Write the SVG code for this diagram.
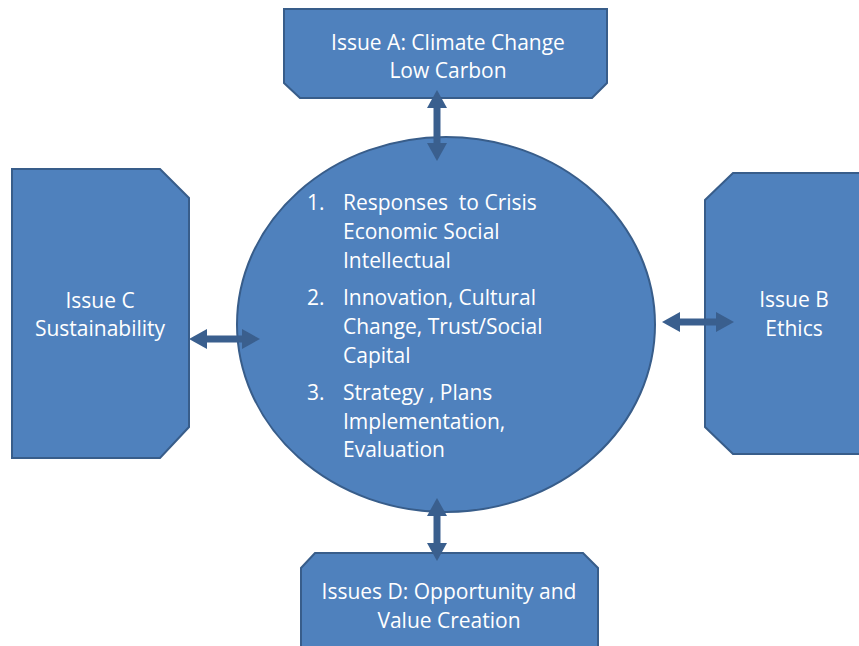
<svg xmlns="http://www.w3.org/2000/svg" width="859" height="646" viewBox="0 0 859 646">
  <style>
    .shape { fill: #4F81BD; stroke: #385D8A; stroke-width: 2; }
    .label { fill: #FFFFFF; font-family: "Open Sans", "Liberation Sans", sans-serif; font-size: 21px; }
    .mid { text-anchor: middle; }
    .link { stroke: #3A5F8E; stroke-width: 7; fill: none; marker-start: url(#head); marker-end: url(#head); }
  </style>
  <defs>
    <marker id="head" markerUnits="userSpaceOnUse" viewBox="0 0 18 20" markerWidth="18" markerHeight="20" refX="8" refY="10" orient="auto-start-reverse">
      <path d="M0,0 L18,10 L0,20 Z" fill="#3A5F8E"/>
    </marker>
  </defs>

  <!-- central hub -->
  <g id="hub">
    <ellipse class="shape" cx="446" cy="324.5" rx="209" ry="187.5"/>
    <text class="label" x="307" y="210">1.</text>
    <text class="label" x="343" y="210">Responses&#160; to Crisis</text>
    <text class="label" x="343" y="239">Economic Social</text>
    <text class="label" x="343" y="268">Intellectual</text>
    <text class="label" x="307" y="305">2.</text>
    <text class="label" x="343" y="305">Innovation, Cultural</text>
    <text class="label" x="343" y="334">Change, Trust/Social</text>
    <text class="label" x="343" y="363">Capital</text>
    <text class="label" x="307" y="400">3.</text>
    <text class="label" x="343" y="400">Strategy , Plans</text>
    <text class="label" x="343" y="429">Implementation,</text>
    <text class="label" x="343" y="457">Evaluation</text>
  </g>

  <!-- issue A (top) -->
  <g id="issue-a">
    <polygon class="shape" points="284,9 607,9 607,83 592,98 300,98 284,83"/>
    <text class="label mid" x="448" y="50">Issue A: Climate Change</text>
    <text class="label mid" x="448" y="78">Low Carbon</text>
  </g>

  <!-- issue B (right) -->
  <g id="issue-b">
    <polygon class="shape" points="733,173 872,173 872,454 733,454 705,427 705,200"/>
    <text class="label mid" x="794" y="307">Issue B</text>
    <text class="label mid" x="794" y="336">Ethics</text>
  </g>

  <!-- issue C (left) -->
  <g id="issue-c">
    <polygon class="shape" points="12,169 160,169 189,198 189,427 160,458 12,458"/>
    <text class="label mid" x="100" y="308">Issue C</text>
    <text class="label mid" x="100" y="336">Sustainability</text>
  </g>

  <!-- issue D (bottom) -->
  <g id="issue-d">
    <polygon class="shape" points="315,553 583,553 598,568 598,662 301,662 301,568"/>
    <text class="label mid" x="449" y="599">Issues D: Opportunity and</text>
    <text class="label mid" x="449" y="628">Value Creation</text>
  </g>

  <!-- two-way links between hub and issues -->
  <g id="connectors">
    <line class="link" x1="437" y1="100" x2="437" y2="151"/>
    <line class="link" x1="199" y1="339" x2="250" y2="339"/>
    <line class="link" x1="672" y1="322" x2="724" y2="322"/>
    <line class="link" x1="437" y1="508" x2="437" y2="551"/>
  </g>
</svg>
